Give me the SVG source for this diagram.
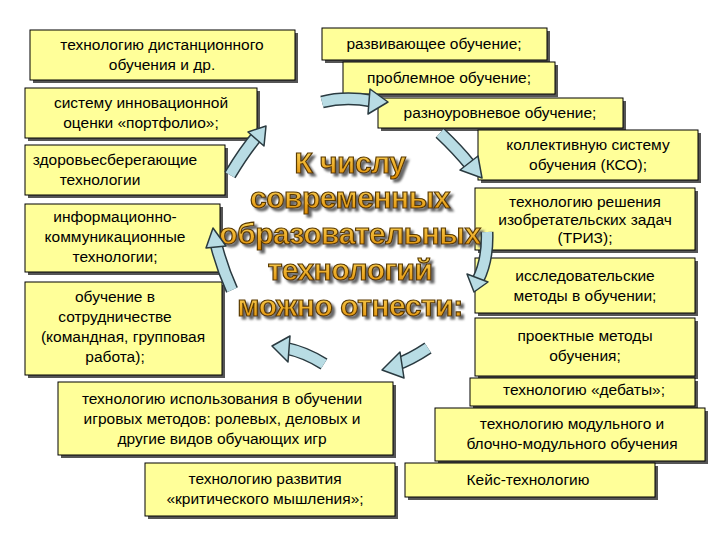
<svg xmlns="http://www.w3.org/2000/svg" width="720" height="540" viewBox="0 0 720 540">
<defs>
<linearGradient id="tg" x1="0" y1="0" x2="0" y2="1"><stop offset="0" stop-color="#ffe066"/><stop offset="1" stop-color="#e08a00"/></linearGradient>
<filter id="sh" x="-10%" y="-10%" width="120%" height="130%"><feDropShadow dx="3" dy="3" stdDeviation="0.8" flood-color="#666"/></filter>
<style>
.b rect.s{fill:#555}
.b rect.f{fill:#ffff99;stroke:#000;stroke-width:1}
.b text{font-family:"Liberation Sans",Arial,sans-serif;font-size:15.5px;fill:#000;text-anchor:middle}
.t{font-family:"Liberation Sans",Arial,sans-serif;font-weight:bold;font-size:30px;text-anchor:middle;fill:url(#tg);stroke:#5a3a00;stroke-width:1.2;letter-spacing:-0.5px}
.ao{fill:none;stroke:#2a3a40;stroke-width:13}
.ai{fill:none;stroke:#b8dce4;stroke-width:10}
.ah{fill:#b8dce4;stroke:#2a3a40;stroke-width:1.5;stroke-linejoin:round}
</style>
</defs>
<rect width="720" height="540" fill="#fff"/>
<g id="n1" class="b"><rect class="s" x="33" y="33" width="265" height="50"/><rect class="f" x="30" y="30" width="265" height="50"/><text x="162" y="50">технологию дистанционного</text><text x="162" y="70">обучения  и др.</text></g>
<g id="n2" class="b"><rect class="s" x="325" y="31" width="225" height="32"/><rect class="f" x="322" y="28" width="225" height="32"/><text x="434" y="49">развивающее обучение;</text></g>
<g id="n3" class="b"><rect class="s" x="346" y="65" width="212" height="32"/><rect class="f" x="343" y="62" width="212" height="32"/><text x="449" y="83">проблемное обучение;</text></g>
<g id="n4" class="b"><rect class="s" x="28" y="91" width="232" height="50"/><rect class="f" x="25" y="88" width="232" height="50"/><text x="141" y="108">систему   инновационной</text><text x="141" y="128">оценки «портфолио»;</text></g>
<g id="n5" class="b"><rect class="s" x="381" y="101" width="245" height="30"/><rect class="f" x="378" y="98" width="245" height="30"/><text x="500" y="118">разноуровневое обучение;</text></g>
<g id="n6" class="b"><rect class="s" x="481" y="133" width="220" height="50"/><rect class="f" x="478" y="130" width="220" height="50"/><text x="588" y="150">коллективную систему</text><text x="588" y="170">обучения (КСО);</text></g>
<g id="n7" class="b"><rect class="s" x="28" y="148" width="200" height="50"/><rect class="f" x="25" y="145" width="200" height="50"/><text x="115" y="165">здоровьесберегающие</text><text x="100" y="185">технологии</text></g>
<g id="n8" class="b"><rect class="s" x="478" y="191" width="220" height="62"/><rect class="f" x="475" y="188" width="220" height="62"/><text x="585" y="207">технологию решения</text><text x="585" y="225">изобретательских задач</text><text x="585" y="243">(ТРИЗ);</text></g>
<g id="n9" class="b"><rect class="s" x="28" y="207" width="195" height="68"/><rect class="f" x="25" y="204" width="195" height="68"/><text x="115" y="222">информационно-</text><text x="115" y="242">коммуникационные</text><text x="115" y="262">технологии;</text></g>
<g id="n10" class="b"><rect class="s" x="478" y="261" width="220" height="55"/><rect class="f" x="475" y="258" width="220" height="55"/><text x="585" y="281">исследовательские</text><text x="585" y="301">методы  в обучении;</text></g>
<g id="n11" class="b"><rect class="s" x="28" y="285" width="197" height="93"/><rect class="f" x="25" y="282" width="197" height="93"/><text x="115" y="302">обучение в</text><text x="115" y="322">сотрудничестве</text><text x="123" y="342">(командная, групповая</text><text x="115" y="362">работа);</text></g>
<g id="n12" class="b"><rect class="s" x="478" y="321" width="220" height="58"/><rect class="f" x="475" y="318" width="220" height="58"/><text x="585" y="341">проектные методы</text><text x="585" y="361">обучения;</text></g>
<g id="n13" class="b"><rect class="s" x="61" y="385" width="335" height="73"/><rect class="f" x="58" y="382" width="335" height="73"/><text x="222" y="404">технологию использования в обучении</text><text x="222" y="424">игровых методов: ролевых, деловых  и</text><text x="222" y="444">другие   видов обучающих игр</text></g>
<g id="n14" class="b"><rect class="s" x="473" y="381" width="225" height="28"/><rect class="f" x="470" y="378" width="225" height="28"/><text x="584" y="395">технологию «дебаты»;</text></g>
<g id="n15" class="b"><rect class="s" x="438" y="411" width="270" height="53"/><rect class="f" x="435" y="408" width="270" height="53"/><text x="572" y="429">технологию модульного  и</text><text x="572" y="449">блочно-модульного обучения</text></g>
<g id="n16" class="b"><rect class="s" x="148" y="466" width="250" height="53"/><rect class="f" x="145" y="463" width="250" height="53"/><text x="265" y="484">технологию  развития</text><text x="265" y="504">«критического мышления»;</text></g>
<g id="n17" class="b"><rect class="s" x="408" y="466" width="250" height="34"/><rect class="f" x="405" y="463" width="250" height="34"/><text x="528" y="485">Кейс-технологию</text></g>
<g id="title" filter="url(#sh)">
<text class="t" x="350" y="173">К числу</text><text class="t" x="350" y="208">современных</text><text class="t" x="350" y="244">образовательных</text><text class="t" x="350" y="280">технологий</text><text class="t" x="350" y="316">можно отнести:</text>
</g>
<g id="connectors">
<path class="ao" d="M322,102 Q345,96 372,101"/><path class="ai" d="M322,102 Q345,96 372,101"/><polygon class="ah" points="370,89 388,102 368,114"/>
<path class="ao" d="M440,133 Q458,150 470,165"/><path class="ai" d="M440,133 Q458,150 470,165"/><polygon class="ah" points="460,170 482,178 478,156"/>
<path class="ao" d="M487,232 Q488,260 478,280"/><path class="ai" d="M487,232 Q488,260 478,280"/><polygon class="ah" points="467,274 474,292 488,282"/>
<path class="ao" d="M428,348 Q410,360 395,365"/><path class="ai" d="M428,348 Q410,360 395,365"/><polygon class="ah" points="400,352 382,370 404,378"/>
<path class="ao" d="M324,364 Q305,352 285,348"/><path class="ai" d="M324,364 Q305,352 285,348"/><polygon class="ah" points="290,336 272,346 288,362"/>
<path class="ao" d="M232,290 Q222,268 216,244"/><path class="ai" d="M232,290 Q222,268 216,244"/><polygon class="ah" points="206,248 213,228 226,246"/>
<path class="ao" d="M230,175 Q245,150 258,135"/><path class="ai" d="M230,175 Q245,150 258,135"/><polygon class="ah" points="248,132 266,126 264,146"/>
</g>
</svg>
